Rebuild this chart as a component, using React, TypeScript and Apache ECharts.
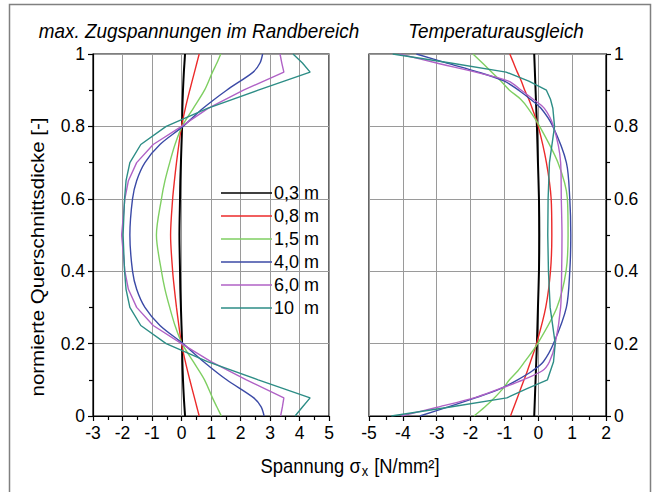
import React, { useEffect, useRef } from "react";
import * as echarts from "echarts";

// ---- data ----
const SERIES_NAMES = ["0,3 m", "0,8 m", "1,5 m", "4,0 m", "6,0 m", "10  m"];
const SERIES_COLORS = ["#000000", "#ec2a2a", "#7fcf62", "#3b4aa6", "#b062c6", "#2d8d86"];
const SERIES_WIDTHS = [2, 1.4, 1.4, 1.4, 1.4, 1.4];

// left panel: max. Zugspannungen im Randbereich
const L_Y = [0, 0.025, 0.05, 0.1, 0.15, 0.2, 0.25, 0.3, 0.35, 0.4, 0.5, 0.6, 0.65, 0.7, 0.75, 0.8, 0.85, 0.9, 0.95, 0.975, 1];
const L_03 = [0.12, 0.1, 0.08, 0.05, 0.03, 0.02, 0.0, -0.02, -0.04, -0.05, -0.07, -0.05, -0.04, -0.02, 0.0, 0.02, 0.03, 0.05, 0.08, 0.1, 0.12];
const L_08 = [0.6, 0.52, 0.44, 0.28, 0.13, 0.0, -0.09, -0.17, -0.24, -0.3, -0.37, -0.3, -0.24, -0.17, -0.09, 0.0, 0.13, 0.28, 0.44, 0.52, 0.6];
const L_15 = [1.35, 1.2, 1.05, 0.78, 0.4, 0.02, -0.22, -0.4, -0.56, -0.68, -0.85, -0.68, -0.56, -0.4, -0.22, 0.02, 0.4, 0.78, 1.05, 1.2, 1.33];
const L_40 = [2.8, 2.7, 2.45, 1.53, 0.75, 0.05, -0.73, -1.24, -1.52, -1.66, -1.75, -1.66, -1.52, -1.24, -0.73, 0.05, 0.73, 1.53, 2.43, 2.66, 2.75];
const L_60 = [3.36, 3.42, 3.47, 2.2, 1.0, 0.0, -0.96, -1.52, -1.8, -1.92, -2.03, -1.92, -1.8, -1.52, -0.96, 0.0, 0.9, 2.1, 3.47, 3.4, 3.34];
const L_10 = [3.85, 4.1, 4.36, 2.6, 0.88, -0.52, -1.38, -1.75, -1.88, -1.93, -1.98, -1.93, -1.88, -1.75, -1.38, -0.52, 0.88, 2.6, 4.36, 4.1, 3.78];

// right panel: Temperaturausgleich
const R_Y = [0, 0.025, 0.05, 0.075, 0.1, 0.125, 0.15, 0.2, 0.3, 0.4, 0.5, 0.6, 0.7, 0.8, 0.85, 0.875, 0.9, 0.925, 0.95, 0.975, 1];
const R_03 = [-0.12, -0.11, -0.1, -0.09, -0.08, -0.07, -0.06, -0.04, -0.01, 0.02, 0.03, 0.02, -0.01, -0.04, -0.06, -0.07, -0.08, -0.09, -0.1, -0.11, -0.12];
const R_08 = [-0.82, -0.72, -0.62, -0.52, -0.42, -0.32, -0.23, -0.05, 0.22, 0.36, 0.4, 0.38, 0.24, 0.0, -0.18, -0.28, -0.4, -0.5, -0.62, -0.73, -0.84];
const R_15 = [-1.9, -1.58, -1.3, -1.05, -0.85, -0.6, -0.4, -0.02, 0.55, 0.82, 0.88, 0.86, 0.58, 0.04, -0.3, -0.52, -0.85, -1.1, -1.38, -1.65, -1.93];
const R_40 = [-3.5, -2.66, -1.86, -1.13, -0.61, -0.17, 0.15, 0.45, 0.83, 0.93, 0.96, 0.93, 0.83, 0.43, 0.08, -0.23, -0.58, -1.0, -1.77, -2.7, -3.6];
const R_60 = [-4.04, -2.95, -1.9, -1.15, -0.45, 0.12, 0.33, 0.5, 0.66, 0.69, 0.7, 0.68, 0.66, 0.45, 0.18, -0.15, -0.5, -0.88, -1.85, -3.0, -4.1];
const R_10 = [-4.34, -2.6, -0.93, -0.35, 0.27, 0.36, 0.45, 0.5, 0.35, 0.3, 0.28, 0.29, 0.33, 0.48, 0.43, 0.36, 0.24, -0.28, -0.95, -2.59, -4.3];

const LEFT_X = [L_03, L_08, L_15, L_40, L_60, L_10];
const RIGHT_X = [R_03, R_08, R_15, R_40, R_60, R_10];

const LEFT_TITLE = "max. Zugspannungen im Randbereich";
const RIGHT_TITLE = "Temperaturausgleich";
const Y_NAME = "normierte Querschnittsdicke [-]";

const FONT = "'Liberation Sans', Arial, sans-serif";

function zip(xs: number[], ys: number[]) {
  return xs.map((x, i) => [x, ys[i]]);
}

export default function App() {
  const ref = useRef<HTMLDivElement>(null);

  useEffect(() => {
    if (!ref.current) return;
    const chart = echarts.init(ref.current, undefined, { renderer: "svg" });

    const axisCommon = {
      type: "value" as const,
      axisLine: { show: true, onZero: false, lineStyle: { color: "#000", width: 1.2 } },
      axisTick: { show: true, inside: false, length: 5, lineStyle: { color: "#000", width: 1.2 } },
      minorTick: { show: true, splitNumber: 2, length: 4, lineStyle: { color: "#000", width: 1.2 } },
      splitLine: { show: true, lineStyle: { color: "#9a9a9a", width: 1 } },
      axisLabel: { color: "#000", fontSize: 17.5, fontFamily: FONT, margin: 8, showMinLabel: true, showMaxLabel: true },
    };

    // panels: which curves are drawn with smoothing (the others have sharp kinks)
    const smoothFlags = [
      [true, true, true, true, false, false],
      [true, true, true, true, true, false],
    ];

    const series: any[] = [];
    [LEFT_X, RIGHT_X].forEach((set, p) => {
      const ys = p === 0 ? L_Y : R_Y;
      set.forEach((xs, i) => {
        series.push({
          type: "line",
          name: SERIES_NAMES[i],
          xAxisIndex: p,
          yAxisIndex: p,
          data: zip(xs, ys),
          symbol: "none",
          showSymbol: false,
          smooth: smoothFlags[p][i] ? 0.3 : false,
          lineStyle: { color: SERIES_COLORS[i], width: SERIES_WIDTHS[i] },
          itemStyle: { color: SERIES_COLORS[i] },
          z: 3,
        });
      });
    });

    chart.setOption({
      animation: false,
      textStyle: { fontFamily: FONT },
      grid: [
        { left: 93, top: 54, width: 236, height: 362, show: true, borderColor: "#000", borderWidth: 1.2, backgroundColor: "transparent" },
        { left: 369, top: 54, width: 237, height: 362, show: true, borderColor: "#000", borderWidth: 1.2, backgroundColor: "transparent" },
      ],
      xAxis: [
        { ...axisCommon, gridIndex: 0, min: -3, max: 5, interval: 1 },
        { ...axisCommon, gridIndex: 1, min: -5, max: 2, interval: 1 },
      ],
      yAxis: [
        { ...axisCommon, gridIndex: 0, min: 0, max: 1, interval: 0.2, position: "left" },
        { ...axisCommon, gridIndex: 1, min: 0, max: 1, interval: 0.2, position: "right" },
      ],
      legend: {
        data: SERIES_NAMES.map((n, i) => ({ name: n, icon: "rect", itemStyle: { color: SERIES_COLORS[i] } })),
        orient: "vertical",
        left: 216,
        top: 176.5,
        itemWidth: 51,
        itemHeight: 1.5,
        itemGap: 0,
        textStyle: { fontSize: 18, lineHeight: 23, color: "#000", fontFamily: FONT, padding: [0, 0, 0, -3] },
        backgroundColor: "transparent",
        selectedMode: false,
      },
      graphic: [
        {
          type: "rect",
          shape: { x: 9.5, y: 4.5, width: 641, height: 520 },
          style: { fill: "none", stroke: "#808080", lineWidth: 1.5 },
          silent: true,
        },
        {
          type: "text",
          x: 199,
          y: 31,
          scaleX: 0.9,
          style: { text: LEFT_TITLE, font: `italic 21px ${FONT}`, fill: "#000", textAlign: "center", textVerticalAlign: "middle" },
        },
        {
          type: "text",
          x: 496,
          y: 31,
          scaleX: 0.9,
          style: { text: RIGHT_TITLE, font: `italic 21px ${FONT}`, fill: "#000", textAlign: "center", textVerticalAlign: "middle" },
        },
        {
          type: "text",
          x: 38,
          y: 257,
          rotation: Math.PI / 2,
          scaleY: 0.86,
          style: { text: Y_NAME, font: `20.5px ${FONT}`, fill: "#000", textAlign: "center", textVerticalAlign: "middle" },
        },
        {
          type: "text",
          x: 350,
          y: 466,
          scaleX: 0.92,
          style: {
            text: "{a|Spannung σ}{b|x}{a| [N/mm²]}",
            textAlign: "center",
            textVerticalAlign: "middle",
            rich: {
              a: { fontSize: 20, fontFamily: FONT, fill: "#000", color: "#000", lineHeight: 24, verticalAlign: "middle" },
              b: { fontSize: 14, fontFamily: FONT, fill: "#000", color: "#000", lineHeight: 24, verticalAlign: "bottom", padding: [8, 1, 0, 1] },
            },
          },
        },
      ],
      series,
    });

    return () => chart.dispose();
  }, []);

  return <div ref={ref} style={{ position: "absolute", left: 0, top: 0, width: 659, height: 492 }} />;
}
